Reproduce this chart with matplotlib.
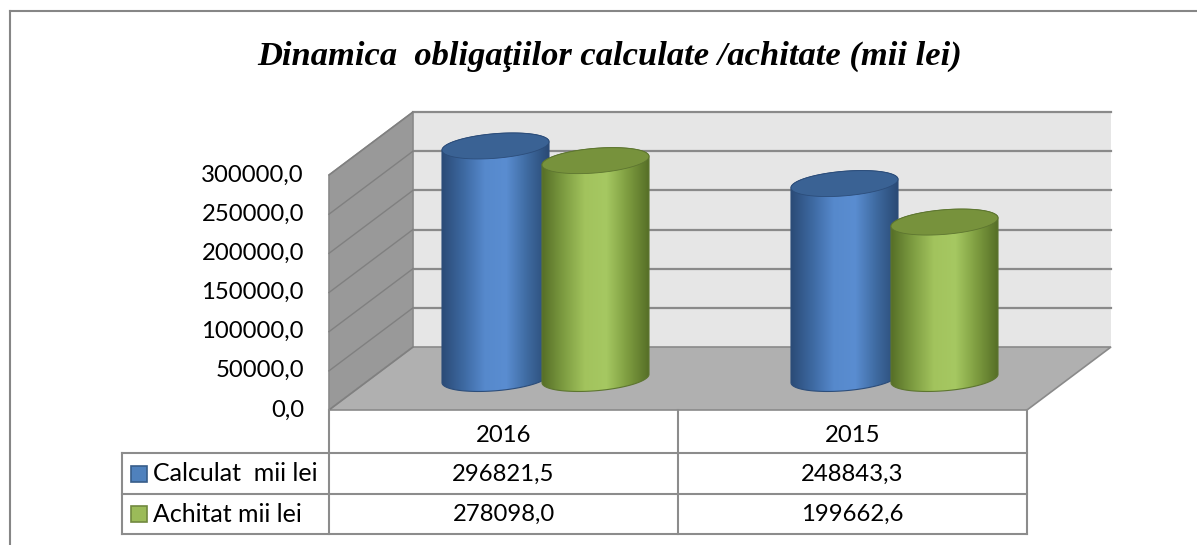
import numpy as np
import matplotlib.pyplot as plt
from matplotlib.patches import Polygon, Rectangle
from matplotlib.colors import LinearSegmentedColormap

# date
ani = ['2016', '2015']
calculat = [296821.5, 248843.3]
achitat = [278098.0, 199662.6]
serii = ['Calculat  mii lei', 'Achitat mii lei']
ticks = [0, 50000, 100000, 150000, 200000, 250000, 300000]
vmax = 300000
titlu = 'Dinamica  obligaţiilor calculate /achitate (mii lei)'

W, H = 1197, 545
fig = plt.figure(figsize=(W / 100, H / 100), dpi=100)
ax = fig.add_axes([0, 0, 1, 1])
ax.axis('off')

# geometria graficului in pixeli (de sus, din stanga)
X0, X1 = 329, 1027      # planul din fata
Y0, YT = 410, 175       # valoarea 0 / vmax
DX, DY = 84, 63         # adancimea
kx = (X1 - X0) / len(ani)
ky = (Y0 - YT) / vmax
ax.set_xlim(-0.5 - X0 / kx, -0.5 + (W - X0) / kx)
ax.set_ylim(-(H - Y0) / ky, Y0 / ky)


def fx(px):
    return -0.5 + (px - X0) / kx


def fy(py):
    return (Y0 - py) / ky


ddx, ddy = DX / kx, DY / ky
xl, xr = -0.5, len(ani) - 0.5
grila = '#8a8a8a'

# peretii si podeaua
ax.add_patch(Rectangle((xl + ddx, ddy), xr - xl, vmax, fc='#e6e6e6', ec='none', zorder=1))
ax.add_patch(Polygon([(xl, 0), (xl + ddx, ddy), (xl + ddx, vmax + ddy), (xl, vmax)],
                     closed=True, fc='#999999', ec=grila, lw=1.2, zorder=2))
ax.add_patch(Polygon([(xl, 0), (xr, 0), (xr + ddx, ddy), (xl + ddx, ddy)],
                     closed=True, fc='#b0b0b0', ec=grila, lw=1.2, zorder=2))
for t in ticks:
    ax.plot([xl, xl + ddx], [t, t + ddy], color='#808080', lw=1, zorder=2)
    if t > 0:
        ax.plot([xl + ddx, xr + ddx], [t + ddy] * 2, color=grila, lw=1.6, zorder=1.5)

# cilindrii
R = 53.5 / kx            # jumatate din latime
f = 0.206                # raza in adancime (fractie din podea)
Bx, By = f * ddx, f * ddy
A = np.sqrt(R ** 2 - Bx ** 2)
off = 50 / kx
tr = np.arctan2(Bx, A)

culori = {
    'Calculat': (['#2b4b77', '#3d69a1', '#5689cc', '#5a8dd1', '#3e6aa0', '#2a4a75'], '#3a6294', '#2c4d7a'),
    'Achitat': (['#566f27', '#7d9c41', '#a2c35d', '#a6c862', '#7e9d40', '#566f27'], '#77923c', '#5d7530'),
}


def cilindru(cx, val, stops, cap, edge, z):
    cy0 = ddy / 2
    cy1 = val + ddy / 2
    tb = np.linspace(tr, tr + np.pi, 80)
    tf = np.linspace(tr + np.pi, tr + 2 * np.pi, 80)
    xs = np.concatenate([cx + A * np.cos(tb) + Bx * np.sin(tb), cx + A * np.cos(tf) + Bx * np.sin(tf)])
    ys = np.concatenate([cy1 + By * np.sin(tb), cy0 + By * np.sin(tf)])
    corp = Polygon(np.column_stack([xs, ys]), closed=True, fc='none', ec=edge, lw=0.8, zorder=z + 0.2)
    ax.add_patch(corp)
    cmap = LinearSegmentedColormap.from_list('c', stops)
    grad = np.linspace(0, 1, 256).reshape(1, -1)
    im = ax.imshow(grad, cmap=cmap, extent=(cx - R, cx + R, cy0 - By, cy1 + By),
                   aspect='auto', zorder=z, interpolation='bilinear')
    im.set_clip_path(corp)
    t = np.linspace(0, 2 * np.pi, 120)
    ax.add_patch(Polygon(np.column_stack([cx + A * np.cos(t) + Bx * np.sin(t), cy1 + By * np.sin(t)]),
                         closed=True, fc=cap, ec=edge, lw=0.6, zorder=z + 0.3))


z = 3
for i in range(len(ani)):
    for j, (vals, nume) in enumerate([(calculat, 'Calculat'), (achitat, 'Achitat')]):
        stops, cap, edge = culori[nume]
        cx = i + (-off if j == 0 else off) + ddx / 2
        cilindru(cx, vals[i], stops, cap, edge, z)
        z += 1

ax.set_xlim(-0.5 - X0 / kx, -0.5 + (W - X0) / kx)
ax.set_ylim(-(H - Y0) / ky, Y0 / ky)

# etichetele axei y
font = 'Lato'
fs = 17.2
for t in ticks:
    ax.text(fx(304), t, f'{t:.1f}'.replace('.', ','), ha='right', va='center',
            fontsize=fs, family=font, color='black')

# tabelul de date
rows = [410, 453, 494, 534]
xlab = 122
lc = '#8c8c8c'
for r in rows[1:]:
    ax.plot([fx(xlab), xr], [fy(r)] * 2, color=lc, lw=1.5, zorder=10)
for xv in [xl, xl + 1, xr]:
    ax.plot([xv, xv], [fy(rows[0]), fy(rows[-1])], color=lc, lw=1.5, zorder=10)
ax.plot([fx(xlab)] * 2, [fy(rows[1]), fy(rows[-1])], color=lc, lw=1.5, zorder=10)

for i, an in enumerate(ani):
    ax.text(i, fy(435), an, ha='center', va='center', fontsize=fs, family=font)
    ax.text(i, fy(474), f'{calculat[i]:.1f}'.replace('.', ','), ha='center', va='center',
            fontsize=fs, family=font)
    ax.text(i, fy(514), f'{achitat[i]:.1f}'.replace('.', ','), ha='center', va='center',
            fontsize=fs, family=font)

patrate = [('#4f81bd', '#385d8a'), ('#9bbb59', '#71893f')]
for k, nume in enumerate(serii):
    yc = (rows[k + 1] + rows[k + 2]) / 2
    ax.add_patch(Rectangle((fx(131), fy(yc + 8)), 16 / kx, 16 / ky,
                           fc=patrate[k][0], ec=patrate[k][1], lw=1.2, zorder=11))
    ax.text(fx(153), fy(yc), nume, ha='left', va='center', fontsize=fs + 0.8, family=font)

# titlul
ax.text(fx(610), fy(56), titlu, ha='center', va='center', fontsize=24.8,
        family='Liberation Serif', weight='bold', style='italic')

# chenarul
ax.plot([fx(10), fx(W)], [fy(11)] * 2, color='#868686', lw=1.5)
ax.plot([fx(10)] * 2, [fy(11), fy(H)], color='#868686', lw=1.5)

fig.savefig('out.png', dpi=100)
